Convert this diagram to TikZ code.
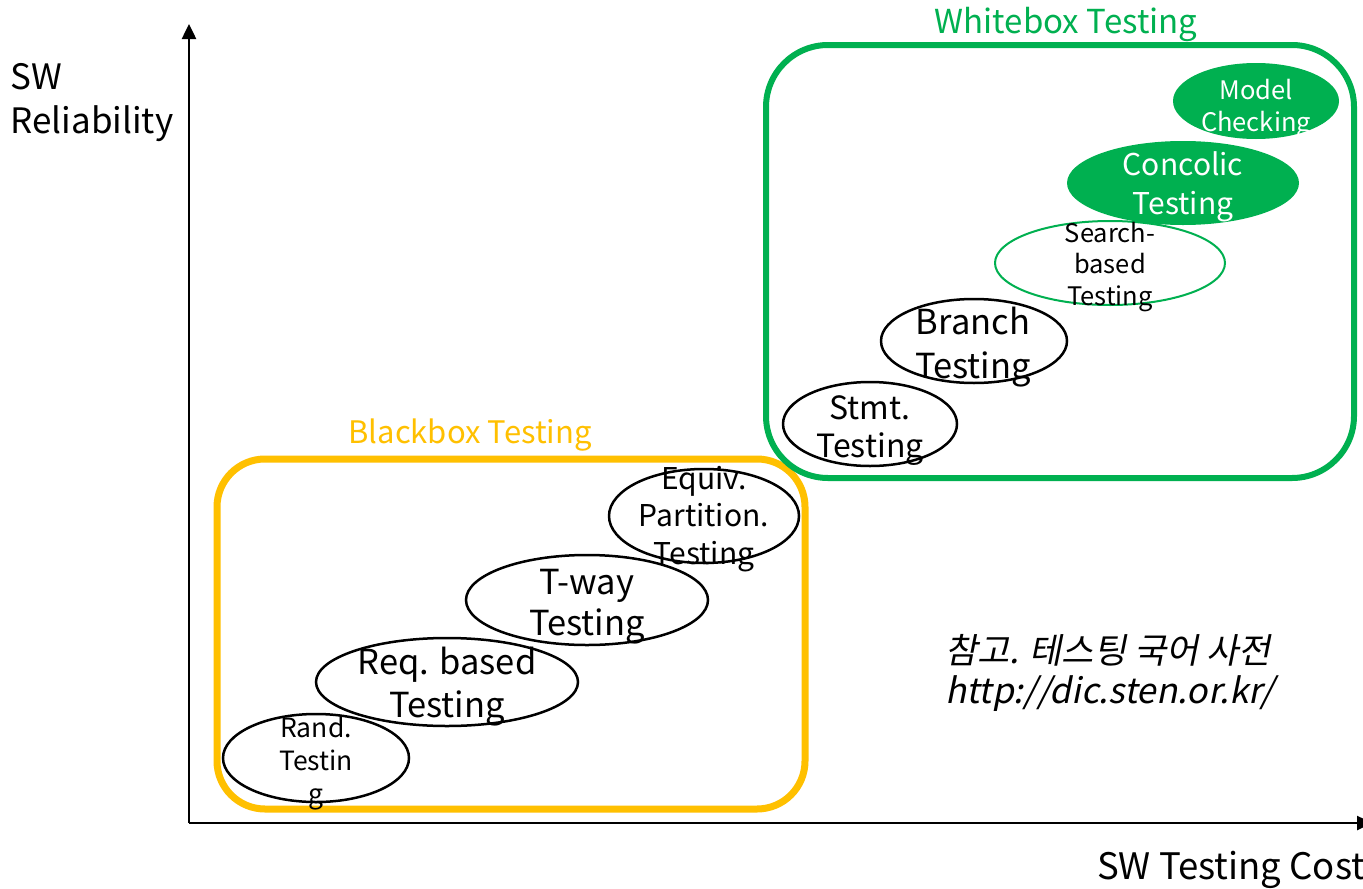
\documentclass[tikz,border=0pt]{standalone}
\usepackage{fontspec}
\setmainfont{Noto Sans CJK KR}
\newfontfamily\slantfont[FakeSlant=0.2]{Noto Sans CJK KR}
\usetikzlibrary{shapes.geometric,arrows.meta}
\definecolor{wbgreen}{HTML}{00B050}
\definecolor{bborange}{HTML}{FFC000}
\newcommand{\fs}[2]{\fontsize{#1}{#2}\selectfont}
\tikzset{
  oval/.style={ellipse, draw=black, line width=2.5pt, inner sep=0pt},
  txt/.style={align=center, inner sep=0pt, yshift=-3pt},
  axis/.style={line width=2.5pt, -{Triangle[length=15pt,width=14pt]}},
}

\begin{document}
\begin{tikzpicture}[x=1pt, y=-1pt]
            \useasboundingbox[fill=white] (0,0) rectangle (1363,889);

            % axes
            \coordinate (o) at (189,823);
            \coordinate (ytop) at (189,24);
            \coordinate (xend) at (1372,823);
            \draw[axis] (o) -- (ytop);
            \draw[axis] (o) -- (xend);
            \node[txt, align=left, font=\fs{35}{44}] (ylab) at (92,100) {SW\\Reliability};
            \node[txt, anchor=west, font=\fs{36.5}{44}] (xlab) at (1097,867) {SW Testing Cost};

            % groups
            \draw[bborange, line width=7pt, rounded corners=48pt] (217,459) rectangle (805,809);
            \node[txt, text=bborange, font=\fs{31}{38}] (bb) at (470,432) {Blackbox Testing};
            \draw[wbgreen, line width=6pt, rounded corners=62pt] (766,45) rectangle (1354,478);
            \node[txt, text=wbgreen, font=\fs{33}{40}] (wb) at (1066,21) {Whitebox Testing};

            % blackbox techniques
            \node[oval, minimum width=186pt, minimum height=88pt] (rand) at (316,758) {};
            \node[txt, font=\fs{26.5}{33}] at (316,760) {Rand.\\Testin\\g};
            \node[oval, minimum width=262pt, minimum height=88pt] (req) at (447,682) {};
            \node[txt, font=\fs{34.5}{43}] at (447,684) {Req. based\\Testing};
            \node[oval, minimum width=242pt, minimum height=90pt] (tway) at (587,600) {};
            \node[txt, font=\fs{34.5}{41}] at (587,604) {T-way\\Testing};
            \node[oval, minimum width=190pt, minimum height=94pt] (equiv) at (704,516) {};
            \node[txt, font=\fs{30}{37.5}] at (704,516) {Equiv.\\Partition.\\Testing};

            % whitebox techniques
            \node[oval, minimum width=174pt, minimum height=84pt] (stmt) at (870,424) {};
            \node[txt, font=\fs{32}{38}] at (870,428) {Stmt.\\Testing};
            \node[oval, minimum width=186pt, minimum height=84pt] (branch) at (974,341) {};
            \node[txt, font=\fs{34.5}{44}] at (973,344) {Branch\\Testing};
            \node[oval, draw=wbgreen, line width=2pt, minimum width=230pt, minimum height=84pt] (search) at (1110,263) {};
            \node[txt, font=\fs{25.5}{31.5}] at (1110,264) {Search-\\based\\Testing};
            \node[oval, draw=none, fill=wbgreen, minimum width=232pt, minimum height=84pt] (concolic) at (1183,183) {};
            \node[txt, text=white, font=\fs{30}{39}] at (1183,184) {Concolic\\Testing};
            \node[oval, draw=none, fill=wbgreen, minimum width=166pt, minimum height=76pt] (model) at (1256,101) {};
            \node[txt, text=white, font=\fs{25.5}{32}] at (1256,106) {Model\\Checking};

            % reference
            \node[txt, align=left, anchor=west, font=\fs{35}{40}\slantfont] (ref) at (945,670) {참고. 테스팅 국어 사전\\http://dic.sten.or.kr/};
        \end{tikzpicture}
\end{document}
